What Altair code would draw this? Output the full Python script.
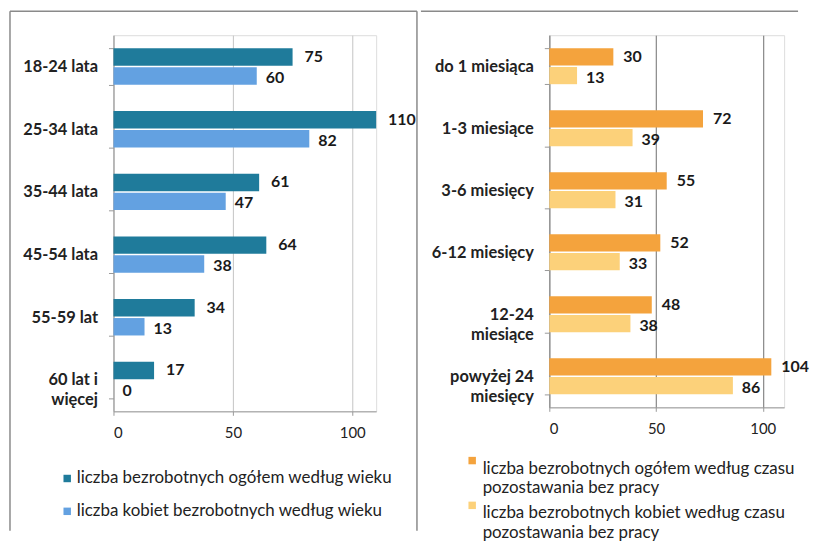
import altair as alt
import pandas as pd

FONT = "Lato"

# ---- left panel data (age) ----
age_categories = ["18-24 lata", "25-34 lata", "35-44 lata", "45-54 lata", "55-59 lat", "60 lat i więcej"]
age_total = [75, 110, 61, 64, 34, 17]
age_women = [60, 82, 47, 38, 13, 0]
age_series = ["liczba bezrobotnych ogółem według wieku",
              "liczba kobiet bezrobotnych według wieku"]
age_colors = ["#1f7b9b", "#63a1e1"]

# ---- right panel data (duration) ----
dur_categories = ["do 1 miesiąca", "1-3 miesiące", "3-6 miesięcy", "6-12 miesięcy",
                  "12-24 miesiące", "powyżej 24 miesięcy"]
dur_total = [30, 72, 55, 52, 48, 104]
dur_women = [13, 39, 31, 33, 38, 86]
dur_series = ["liczba bezrobotnych ogółem według czasu pozostawania bez pracy",
              "liczba bezrobotnych kobiet według czasu pozostawania bez pracy"]
dur_colors = ["#f4a33d", "#fcd17a"]

x_ticks = [0, 50, 100]
x_domain = [0, 110]


def long_df(cats, s1, s2, series):
    rows = []
    for c, a, b in zip(cats, s1, s2):
        rows.append({"cat": c, "series": series[0], "value": a, "k": 0})
        rows.append({"cat": c, "series": series[1], "value": b, "k": 1})
    return pd.DataFrame(rows)


def panel(df, cats, series, colors, width, height, grid_color, y_label_expr,
          legend, frame_layers, dx_total):
    y_enc = alt.Y(
        "cat:N", sort=cats, title=None,
        scale=alt.Scale(paddingInner=0.42, paddingOuter=0.21),
        axis=alt.Axis(labelExpr=y_label_expr, tickBand="extent", tickSize=5,
                      labelPadding=11, labelFontSize=16.5, labelFontWeight="bold",
                      labelColor="#222", labelFont=FONT, domainColor="#999",
                      tickColor="#999", labelLineHeight=20, labelLimit=200),
    )
    y_plain = alt.Y("cat:N", sort=cats)
    yoff = alt.YOffset("series:N", sort=series, scale=alt.Scale(paddingInner=0.08))
    x_enc = alt.X(
        "value:Q", title=None,
        scale=alt.Scale(domain=x_domain, nice=False, zero=True),
        axis=alt.Axis(values=x_ticks, grid=True, gridColor=grid_color, tickSize=4,
                      tickColor="#999", domainColor="#999", labelFontSize=15,
                      labelFont=FONT, labelColor="#222", labelPadding=10),
    )
    bars = alt.Chart(df).mark_bar().encode(
        x=x_enc, y=y_enc, yOffset=yoff,
        color=alt.Color("series:N", sort=series,
                        scale=alt.Scale(domain=series, range=colors),
                        legend=legend),
    )
    t_total = alt.Chart(df).transform_filter(alt.datum.k == 0).mark_text(
        align="left", baseline="middle", dx=dx_total, font=FONT, fontWeight="bold",
        fontSize=16, color="#1a1a1a",
    ).encode(x="value:Q", y=y_plain, yOffset=yoff, text="value:Q")
    t_women = alt.Chart(df).transform_filter(alt.datum.k == 1).mark_text(
        align="left", baseline="middle", dx=9, dy=2, font=FONT, fontWeight="bold",
        fontSize=16, color="#1a1a1a",
    ).encode(x="value:Q", y=y_plain, yOffset=yoff, text="value:Q")
    return alt.layer(*frame_layers, bars, t_total, t_women).properties(
        width=width, height=height)


one = pd.DataFrame({"a": [0]})
frame_style = dict(color="#8a8a8a", strokeWidth=1.5)

left_frame = [
    alt.Chart(one).mark_rule(**frame_style).encode(
        x=alt.value(-104), x2=alt.value(305), y=alt.value(-24)),
    alt.Chart(one).mark_rule(**frame_style).encode(
        x=alt.value(-104), y=alt.value(-24), y2=alt.value(498)),
    alt.Chart(one).mark_rule(**frame_style).encode(
        x=alt.value(305), y=alt.value(-24), y2=alt.value(498)),
]
right_frame = [
    alt.Chart(one).mark_rule(**frame_style).encode(
        x=alt.value(-129), x2=alt.value(250), y=alt.value(-24)),
]

left_legend = alt.Legend(
    orient="none", legendX=-55, legendY=437, direction="vertical", title=None,
    symbolType="square", symbolSize=56, symbolStrokeWidth=0,
    labelFontSize=17, labelFont=FONT, labelColor="#222", labelLimit=400,
    rowPadding=15, padding=0, labelOffset=1,
)
right_legend = alt.Legend(
    orient="none", legendX=-86, legendY=419, direction="vertical", title=None,
    symbolType="square", symbolSize=56, symbolStrokeWidth=0,
    labelFontSize=17, labelFont=FONT, labelColor="#222", labelLimit=400,
    rowPadding=0, padding=0, labelOffset=2, labelBaseline="top",
    labelExpr="[slice(datum.label, 0, indexof(datum.label, ' pozostawania')), 'pozostawania bez pracy']",
)

left = panel(
    long_df(age_categories, age_total, age_women, age_series),
    age_categories, age_series, age_colors, 264, 378, "#c4c4c4",
    "datum.label == '60 lat i więcej' ? ['60 lat i', 'więcej'] : datum.label",
    left_legend, left_frame, 12,
)
right = panel(
    long_df(dur_categories, dur_total, dur_women, dur_series),
    dur_categories, dur_series, dur_colors, 236, 374, "#6f6f6f",
    "datum.label == '12-24 miesiące' ? ['12-24', 'miesiące'] : "
    "(datum.label == 'powyżej 24 miesięcy' ? ['powyżej 24', 'miesięcy'] : datum.label)",
    right_legend, right_frame, 10,
)

pad = {"left": 0, "top": 0, "right": 0, "bottom": 0}
chart = alt.hconcat(left, right, spacing=0).resolve_scale(
    color="independent", x="independent", y="independent", yOffset="independent"
).properties(
    padding=pad,
    background="white",
).configure_view(stroke=None).configure(
    font=FONT, style={"guide-label": {"lineHeight": 20}}
)

chart.save("out.html", embed_options={"renderer": "svg", "actions": False})
